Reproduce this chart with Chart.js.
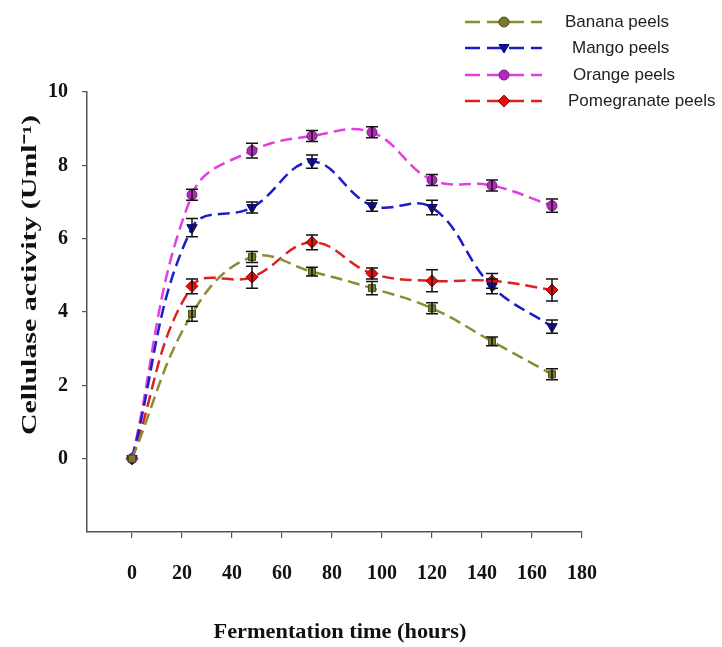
<!DOCTYPE html>
<html>
<head>
<meta charset="utf-8">
<script src="https://cdn.jsdelivr.net/npm/chart.js@4.4.1/dist/chart.umd.min.js"></script>
<style>
  html, body { margin: 0; padding: 0; background: #fff; }
  #wrap { width: 722px; height: 647px; }
</style>
</head>
<body>
<div id="wrap"><canvas id="line-chart" width="722" height="647"></canvas></div>
<script>
// Data
var hours = [0, 24, 48, 72, 96, 120, 144, 168];
var banana = [0, 3.95, 5.5, 5.1, 4.65, 4.1, 3.2, 2.3];
var mango = [0, 6.3, 6.85, 8.1, 6.9, 6.85, 4.7, 3.6];
var orange = [0, 7.2, 8.4, 8.8, 8.9, 7.6, 7.45, 6.9];
var pomegranate = [0, 4.7, 4.95, 5.9, 5.05, 4.85, 4.85, 4.6];

var bananaErr = [0, 0.2, 0.15, 0.12, 0.18, 0.15, 0.12, 0.15];
var mangoErr = [0, 0.25, 0.15, 0.18, 0.15, 0.2, 0.2, 0.18];
var orangeErr = [0, 0.15, 0.2, 0.15, 0.15, 0.15, 0.15, 0.18];
var pomegranateErr = [0, 0.2, 0.3, 0.2, 0.15, 0.3, 0.2, 0.3];

var xTicks = [0, 20, 40, 60, 80, 100, 120, 140, 160, 180];
var yTicks = [0, 2, 4, 6, 8, 10];

var xTitle = "Fermentation time (hours)";
var yTitle = "Cellulase activity (Uml\u207B\u00B9)";

function points(ys) {
  return hours.map(function (h, i) { return { x: h, y: ys[i] }; });
}

document.addEventListener("DOMContentLoaded", function () {
  var ctx = document.getElementById("line-chart").getContext("2d");

  var serif = "'Liberation Serif', 'Times New Roman', serif";

  var options = {
    borderWidth: 2.5,
    borderDash: [12, 6],
    tension: 0.4,
    pointRadius: 5,
    pointBorderWidth: 1,
    fill: false,
  };

  // Error bars (black I-bars)
  var errorBars = {
    id: "errorBars",
    afterDatasetsDraw: function (chart) {
      var c = chart.ctx;
      var xs = chart.scales.x, ys = chart.scales.y;
      c.save();
      c.strokeStyle = "#111";
      c.lineWidth = 1.5;
      chart.data.datasets.forEach(function (ds) {
        ds.data.forEach(function (p, i) {
          var e = ds.errors[i];
          if (!e) return;
          var px = xs.getPixelForValue(p.x);
          var top = ys.getPixelForValue(p.y + e);
          var bot = ys.getPixelForValue(p.y - e);
          c.beginPath();
          c.moveTo(px, top); c.lineTo(px, bot);
          c.moveTo(px - 6, top); c.lineTo(px + 6, top);
          c.moveTo(px - 6, bot); c.lineTo(px + 6, bot);
          c.stroke();
        });
      });
      c.restore();
    },
  };

  // Axis titles: the source figure is stretched, so the text is scaled to fit
  var axisTitles = {
    id: "axisTitles",
    afterDraw: function (chart) {
      var c = chart.ctx;
      c.save();
      c.fillStyle = "#111";
      c.textAlign = "center";
      c.textBaseline = "middle";
      c.font = "bold 21px " + serif;
      var w = c.measureText(xTitle).width;
      c.translate(340, 633);
      c.scale(253 / w, 1);
      c.fillText(xTitle, 0, 0);
      c.restore();

      c.save();
      c.fillStyle = "#111";
      c.textAlign = "center";
      c.textBaseline = "middle";
      c.font = "bold 20px " + serif;
      w = c.measureText(yTitle).width;
      c.translate(31, 275);
      c.rotate(-Math.PI / 2);
      c.scale(320 / w, 1);
      c.fillText(yTitle, 0, 0);
      c.restore();
    },
  };

  // Legend drawn as line + marker, like the original figure
  var legendRows = [
    { text: "Banana peels", y: 22, tx: 565, style: "circle" },
    { text: "Mango peels", y: 48, tx: 572, style: "triangleDown" },
    { text: "Orange peels", y: 75, tx: 573, style: "circle" },
    { text: "Pomegranate peels", y: 101, tx: 568, style: "rectRot" },
  ];
  var customLegend = {
    id: "customLegend",
    afterDraw: function (chart) {
      var c = chart.ctx;
      c.save();
      legendRows.forEach(function (row, i) {
        var ds = chart.data.datasets[i];
        c.strokeStyle = ds.borderColor;
        c.lineWidth = 2.5;
        c.setLineDash([15, 7]);
        c.beginPath();
        c.moveTo(465, row.y); c.lineTo(542, row.y);
        c.stroke();
        c.setLineDash([]);
        c.fillStyle = ds.pointBackgroundColor;
        c.strokeStyle = ds.pointBorderColor;
        c.lineWidth = 1;
        var mx = 504, my = row.y, r = 5;
        c.beginPath();
        if (row.style === "circle") {
          c.arc(mx, my, r, 0, Math.PI * 2);
        } else if (row.style === "triangleDown") {
          c.moveTo(mx - r, my - r * 0.7); c.lineTo(mx + r, my - r * 0.7); c.lineTo(mx, my + r);
          c.closePath();
        } else {
          c.moveTo(mx, my - r - 1); c.lineTo(mx + r + 1, my); c.lineTo(mx, my + r + 1); c.lineTo(mx - r - 1, my);
          c.closePath();
        }
        c.fill(); c.stroke();
        c.fillStyle = "#222";
        c.font = "17px 'Liberation Sans', Arial, sans-serif";
        c.textBaseline = "middle";
        c.fillText(row.text, row.tx, row.y);
      });
      c.restore();
    },
  };

  new Chart(ctx, {
    type: "line",
    data: {
      datasets: [
        {
          label: "Banana peels",
          data: points(banana),
          errors: bananaErr,
          ...options,
          borderColor: "#8c8c32",
          pointBackgroundColor: "#7a7a2e",
          pointBorderColor: "#4a4a1a",
          pointStyle: "rect",
        },
        {
          label: "Mango peels",
          data: points(mango),
          errors: mangoErr,
          ...options,
          borderColor: "#1c1cc8",
          pointBackgroundColor: "#1010a0",
          pointBorderColor: "#08086a",
          pointStyle: "triangle",
          pointRotation: 180,
          pointRadius: 6,
        },
        {
          label: "Orange peels",
          data: points(orange),
          errors: orangeErr,
          ...options,
          borderColor: "#e23ee2",
          pointBackgroundColor: "#b02cb8",
          pointBorderColor: "#7a1a80",
          pointStyle: "circle",
        },
        {
          label: "Pomegranate peels",
          data: points(pomegranate),
          errors: pomegranateErr,
          ...options,
          borderColor: "#dd2020",
          pointBackgroundColor: "#e01010",
          pointBorderColor: "#a00000",
          pointStyle: "rectRot",
          pointRadius: 6,
        },
      ],
    },
    options: {
      responsive: false,
      animation: false,
      layout: { padding: { top: 92, right: 140, left: 0, bottom: 0 } },
      plugins: {
        legend: { display: false },
        tooltip: { enabled: false },
      },
      scales: {
        x: {
          type: "linear",
          min: -18,
          max: 180,
          afterBuildTicks: function (scale) {
            scale.ticks = xTicks.map(function (v) { return { value: v }; });
          },
          afterFit: function (scale) { scale.height = 115; },
          grid: { drawOnChartArea: false, tickLength: 6, color: "#555", lineWidth: 1.2 },
          border: { color: "#555", width: 1.5 },
          ticks: {
            color: "#111",
            padding: 24,
            maxRotation: 0,
            font: { family: serif, size: 20, weight: "bold" },
          },
        },
        y: {
          min: -2,
          max: 10,
          afterBuildTicks: function (scale) {
            scale.ticks = yTicks.map(function (v) { return { value: v }; });
          },
          afterFit: function (scale) { scale.width = 87; },
          grid: { drawOnChartArea: false, tickLength: 5, color: "#555", lineWidth: 1.2 },
          border: { color: "#555", width: 1.5 },
          ticks: {
            color: "#111",
            padding: 14,
            font: { family: serif, size: 20, weight: "bold" },
          },
        },
      },
    },
    plugins: [errorBars, axisTitles, customLegend],
  });
});
</script>
</body>
</html>
